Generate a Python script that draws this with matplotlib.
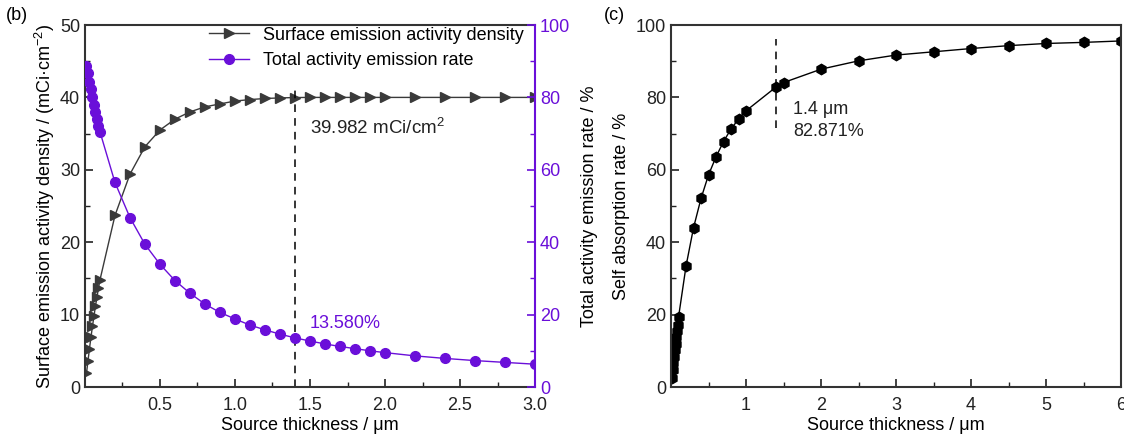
import numpy as np
import matplotlib
matplotlib.use("Agg")
import matplotlib.pyplot as plt
from matplotlib.ticker import MultipleLocator

plt.rcParams["font.family"] = ["Liberation Sans", "DejaVu Sans"]
plt.rcParams["mathtext.default"] = "regular"
plt.rcParams["font.size"] = 12

# ---- panel (b) data ----
thick_b = [0.01, 0.02, 0.03, 0.04, 0.05, 0.06, 0.07, 0.08, 0.09, 0.1,
           0.2, 0.3, 0.4, 0.5, 0.6, 0.7, 0.8, 0.9, 1.0, 1.1, 1.2, 1.3, 1.4,
           1.5, 1.6, 1.7, 1.8, 1.9, 2.0, 2.2, 2.4, 2.6, 2.8, 3.0]
surf_density = [1.9, 3.6, 5.3, 6.9, 8.4, 9.8, 11.2, 12.4, 13.7, 14.8,
                23.7, 29.4, 33.2, 35.5, 37.0, 38.0, 38.7, 39.1, 39.5, 39.7, 39.85, 39.93, 39.982,
                40.0, 40.0, 40.0, 40.0, 40.0, 40.0, 40.0, 40.0, 40.0, 40.0, 40.0]
emission_rate = [88.8, 86.7, 84.3, 82.2, 80.0, 77.9, 75.9, 74.0, 72.2, 70.5,
                 56.5, 46.8, 39.4, 33.9, 29.4, 25.9, 22.9, 20.6, 18.8, 17.1, 15.8, 14.6, 13.58,
                 12.7, 11.9, 11.2, 10.6, 10.0, 9.5, 8.6, 7.9, 7.3, 6.8, 6.3]

# ---- panel (c) data ----
thick_c = [0.01, 0.02, 0.03, 0.04, 0.05, 0.06, 0.07, 0.08, 0.09, 0.1,
           0.2, 0.3, 0.4, 0.5, 0.6, 0.7, 0.8, 0.9, 1.0, 1.4, 1.5,
           2.0, 2.5, 3.0, 3.5, 4.0, 4.5, 5.0, 5.5, 6.0]
self_abs = [2.6, 4.6, 6.5, 8.4, 10.2, 12.0, 13.8, 15.5, 17.2, 19.3,
            33.4, 44.0, 52.1, 58.6, 63.6, 67.8, 71.3, 74.0, 76.3, 82.871, 84.1,
            87.8, 90.1, 91.7, 92.6, 93.5, 94.3, 94.9, 95.2, 95.6]

purple = "#6A0FD9"
dark = "#3a3a3a"

fig = plt.figure(figsize=(11.24, 4.38), dpi=100)
ax = fig.add_axes([0.0756, 0.1164, 0.4004, 0.8265])
ax2 = ax.twinx()

# surface emission activity density
l1, = ax.plot(thick_b, surf_density, color=dark, lw=1.0, marker=">", ms=7,
              mfc=dark, mec=dark, label="Surface emission activity density")
# total activity emission rate
l2, = ax2.plot(thick_b, emission_rate, color=purple, lw=1.0, marker="o", ms=7,
               mfc=purple, mec=purple, label="Total activity emission rate")

ax.set_xlim(0, 3.0)
ax.set_ylim(0, 50)
ax2.set_ylim(0, 100)
ax.xaxis.set_major_locator(MultipleLocator(0.5))
ax.xaxis.set_minor_locator(MultipleLocator(0.25))
ax.yaxis.set_major_locator(MultipleLocator(10))
ax.yaxis.set_minor_locator(MultipleLocator(5))
ax2.yaxis.set_major_locator(MultipleLocator(20))
ax2.yaxis.set_minor_locator(MultipleLocator(10))
ax.set_xticks([0, 0.5, 1.0, 1.5, 2.0, 2.5, 3.0])
ax.set_xticklabels(["", "0.5", "1.0", "1.5", "2.0", "2.5", "3.0"])
ax.set_yticks([0, 10, 20, 30, 40, 50])

ax.tick_params(which="both", direction="in", top=False, right=False, colors="#222222", labelsize=13)
ax.tick_params(which="major", length=6, width=1.2)
ax.tick_params(which="minor", length=3.5, width=1.0)
ax.tick_params(axis="x", which="major", pad=7)
ax2.tick_params(which="both", direction="in", colors=purple, labelsize=13)
ax2.tick_params(which="major", length=6, width=1.2)
ax2.tick_params(which="minor", length=3.5, width=1.0)

for s in ["left", "bottom", "top"]:
    ax.spines[s].set_color("#333333")
    ax.spines[s].set_linewidth(1.5)
for s in ["left", "bottom", "top"]:
    ax2.spines[s].set_visible(False)
ax2.spines["right"].set_color(purple)
ax2.spines["right"].set_linewidth(1.5)
ax.spines["right"].set_visible(False)

ax.set_xlabel("Source thickness / μm", fontsize=13, labelpad=2)
ax.set_ylabel("Surface emission activity density / (mCi·cm$^{-2}$)", fontsize=13, labelpad=2)
ax2.set_ylabel("Total activity emission rate / %", fontsize=13, labelpad=8)

ax.plot([1.4, 1.4], [0, 41.5], ls=(0, (5, 4)), color="black", lw=1.1)
ax.text(1.5, 34.9, "39.982 mCi/cm$^2$", fontsize=13.5, color="#222222")
ax2.text(1.5, 16.3, "13.580%", fontsize=13, color=purple)

leg = ax.legend(handles=[l1, l2], loc="upper right", bbox_to_anchor=(1.0, 1.025),
                frameon=False, fontsize=13, handlelength=2.2, handletextpad=0.8,
                labelspacing=0.45, borderaxespad=0.2)

fig.text(0.005, 0.955, "(b)", fontsize=13)

# ---- panel (c) ----
axc = fig.add_axes([0.597, 0.1164, 0.4004, 0.8265])
axc.plot(thick_c, self_abs, color="black", lw=1.0, marker="h", ms=7.5,
         mfc="black", mec="black")
axc.set_xlim(0, 6)
axc.set_ylim(0, 100)
axc.xaxis.set_major_locator(MultipleLocator(1))
axc.xaxis.set_minor_locator(MultipleLocator(0.5))
axc.yaxis.set_major_locator(MultipleLocator(20))
axc.yaxis.set_minor_locator(MultipleLocator(10))
axc.set_xticks([0, 1, 2, 3, 4, 5, 6])
axc.set_xticklabels(["", "1", "2", "3", "4", "5", "6"])
axc.tick_params(which="both", direction="in", top=False, right=False, colors="#222222", labelsize=13)
axc.tick_params(which="major", length=6, width=1.2)
axc.tick_params(which="minor", length=3.5, width=1.0)
axc.tick_params(axis="x", which="major", pad=7)
for s in axc.spines.values():
    s.set_color("#333333")
    s.set_linewidth(1.5)
axc.set_xlabel("Source thickness / μm", fontsize=13, labelpad=2)
axc.set_ylabel("Self absorption rate / %", fontsize=13, labelpad=4)
axc.plot([1.4, 1.4], [71.5, 96.0], ls=(0, (5, 4)), color="black", lw=1.1)
axc.text(1.63, 69.3, "1.4 μm\n82.871%", fontsize=13, color="#222222", linespacing=1.4)

fig.text(0.537, 0.955, "(c)", fontsize=13)

plt.savefig("out.png", dpi=100)
plt.close("all")
